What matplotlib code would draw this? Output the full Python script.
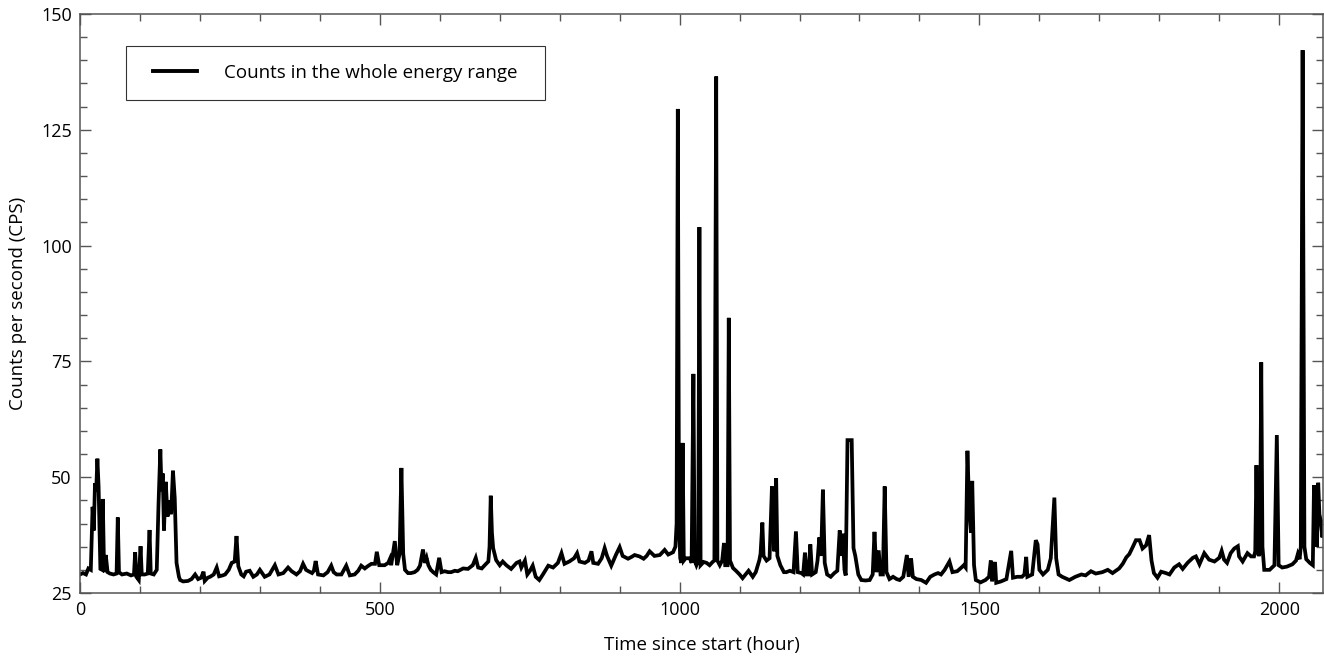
import matplotlib
matplotlib.use("Agg")
import matplotlib.pyplot as plt
from matplotlib.ticker import MultipleLocator
from matplotlib.legend_handler import HandlerLine2D

plt.rcParams['font.family'] = ['Open Sans', 'DejaVu Sans']

hours = [
    0, 5, 10, 14, 18, 21, 23, 25, 27, 29, 31, 33, 34, 37, 38, 40, 41, 43, 46, 50,
    56, 61, 63, 65, 70, 78, 85, 90, 92, 94, 98, 101, 103, 108, 113, 116, 118, 123, 128, 131,
    134, 136, 138, 140, 143, 146, 149, 152, 155, 158, 161, 165, 167, 172, 180, 186, 192, 197, 202, 206,
    208, 213, 217, 223, 228, 232, 238, 242, 248, 253, 258, 261, 264, 269, 273, 277, 283, 289, 295, 300,
    308, 316, 325, 331, 339, 347, 353, 361, 367, 372, 377, 381, 387, 390, 393, 397, 406, 413, 419, 423,
    428, 436, 444, 450, 458, 464, 469, 475, 480, 486, 492, 495, 499, 508, 514, 517, 519, 525, 529, 533,
    536, 539, 542, 547, 552, 558, 563, 567, 572, 575, 578, 581, 585, 589, 594, 599, 603, 608, 614, 619,
    625, 630, 639, 647, 655, 660, 664, 670, 675, 681, 683, 685, 687, 689, 694, 700, 705, 711, 719, 728,
    733, 736, 742, 746, 750, 755, 760, 766, 772, 781, 789, 797, 803, 808, 816, 824, 829, 833, 842, 848,
    853, 856, 864, 870, 875, 879, 886, 894, 900, 905, 914, 920, 925, 933, 940, 945, 950, 958, 967, 975,
    981, 989, 993, 995, 997, 999, 1001, 1003, 1005, 1007, 1010, 1017, 1020, 1023, 1025, 1028, 1031, 1033, 1035, 1040,
    1045, 1050, 1055, 1058, 1061, 1063, 1067, 1071, 1074, 1076, 1080, 1082, 1084, 1089, 1094, 1100, 1105, 1110, 1115, 1122,
    1127, 1133, 1135, 1138, 1140, 1145, 1150, 1154, 1156, 1158, 1161, 1163, 1168, 1174, 1178, 1184, 1190, 1194, 1197, 1203,
    1206, 1209, 1212, 1215, 1218, 1221, 1227, 1230, 1233, 1236, 1239, 1242, 1246, 1252, 1258, 1263, 1267, 1270, 1272, 1275,
    1277, 1280, 1287, 1290, 1293, 1298, 1303, 1310, 1317, 1322, 1325, 1328, 1332, 1335, 1339, 1342, 1345, 1350, 1356, 1362,
    1367, 1373, 1379, 1382, 1386, 1389, 1395, 1403, 1411, 1418, 1425, 1431, 1436, 1442, 1450, 1455, 1463, 1470, 1474, 1477,
    1480, 1483, 1486, 1488, 1491, 1494, 1502, 1510, 1516, 1519, 1521, 1526, 1528, 1536, 1545, 1553, 1556, 1563, 1571, 1575,
    1578, 1580, 1588, 1594, 1597, 1600, 1606, 1614, 1619, 1625, 1628, 1632, 1638, 1650, 1660, 1670, 1677, 1686, 1694, 1705,
    1714, 1722, 1733, 1739, 1745, 1750, 1756, 1761, 1767, 1772, 1778, 1783, 1787, 1791, 1797, 1803, 1811, 1817, 1825, 1833,
    1839, 1847, 1856, 1861, 1867, 1875, 1883, 1892, 1900, 1904, 1908, 1913, 1919, 1925, 1931, 1933, 1939, 1947, 1953, 1958,
    1960, 1962, 1964, 1966, 1968, 1970, 1972, 1975, 1984, 1992, 1996, 1999, 2005, 2013, 2022, 2028, 2031, 2034, 2036, 2039,
    2042, 2045, 2051, 2056, 2058, 2060, 2063, 2065, 2067, 2069, 2072, 2075,
]

counts = [
    29.0, 29.3, 29.0, 30.3, 30.0, 43.6, 38.5, 48.7, 47.0, 54.0, 48.0, 36.0, 30.2, 30.0, 45.3, 31.0, 29.5, 33.2, 29.5, 29.2,
    29.0, 29.2, 41.3, 29.5, 29.0, 29.2, 28.8, 29.0, 33.8, 28.5, 27.8, 35.1, 29.0, 29.0, 29.2, 38.6, 29.2, 29.0, 30.0, 44.4,
    56.0, 47.0, 50.8, 38.5, 49.0, 41.5, 45.0, 42.0, 51.4, 45.5, 31.5, 28.5, 27.8, 27.5, 27.6, 28.0, 29.0, 28.0, 28.3, 29.6,
    27.6, 28.3, 28.5, 29.0, 30.5, 28.6, 28.8, 29.0, 30.0, 31.5, 31.8, 37.3, 30.8, 29.0, 28.6, 29.6, 29.8, 28.5, 29.0, 30.0,
    28.5, 29.0, 31.0, 29.0, 29.3, 30.5, 29.7, 29.0, 29.7, 31.3, 30.0, 29.7, 29.3, 29.8, 31.9, 29.0, 28.8, 29.5, 30.9, 29.5,
    29.0, 29.0, 30.9, 28.8, 29.0, 29.8, 30.9, 30.3, 30.8, 31.3, 31.3, 33.9, 31.0, 31.0, 31.5, 32.4, 31.0, 36.2, 31.0, 33.5,
    52.0, 33.5, 30.0, 29.3, 29.3, 29.5, 30.0, 30.9, 34.4, 31.5, 32.6, 31.0, 30.0, 29.5, 29.0, 32.6, 29.5, 29.7, 29.5, 29.5,
    29.8, 29.7, 30.3, 30.2, 31.0, 32.6, 30.5, 30.3, 31.0, 31.8, 35.0, 46.0, 38.0, 34.7, 32.1, 31.0, 31.8, 31.0, 30.2, 31.5,
    31.8, 30.5, 32.0, 29.0, 29.7, 30.9, 28.5, 27.8, 29.0, 30.9, 30.5, 31.5, 33.6, 31.3, 31.8, 32.5, 33.6, 31.8, 31.5, 32.0,
    34.0, 31.5, 31.3, 32.5, 34.7, 33.0, 30.9, 33.3, 34.9, 33.0, 32.4, 32.8, 33.2, 32.9, 32.4, 33.0, 34.0, 33.0, 33.2, 34.3,
    33.3, 33.8, 35.0, 40.0, 129.5, 40.0, 32.5, 31.5, 57.4, 32.0, 32.5, 32.5, 31.5, 72.3, 32.0, 31.0, 32.0, 104.0, 31.0, 31.7,
    31.5, 31.0, 31.7, 32.0, 136.5, 32.0, 31.0, 32.0, 35.8, 31.0, 31.0, 84.4, 32.0, 30.4, 29.8, 29.0, 28.2, 29.0, 29.8, 28.5,
    29.5, 32.1, 33.5, 40.2, 33.0, 32.0, 32.5, 48.0, 39.0, 34.0, 49.8, 33.0, 31.0, 29.5, 29.5, 29.8, 29.5, 38.3, 29.5, 29.3,
    29.0, 33.7, 29.0, 29.0, 35.5, 29.0, 29.5, 32.0, 37.0, 33.0, 47.3, 31.5, 29.0, 28.5, 29.3, 29.8, 38.5, 33.0, 37.8, 30.0,
    28.8, 58.0, 58.0, 34.7, 33.0, 29.0, 27.8, 27.7, 27.8, 29.0, 38.2, 29.5, 34.2, 29.0, 29.0, 48.0, 29.5, 28.0, 28.5, 28.0,
    27.8, 28.5, 33.2, 28.5, 32.5, 28.5, 28.0, 27.8, 27.2, 28.5, 29.0, 29.3, 29.0, 30.0, 31.8, 29.5, 29.7, 30.5, 31.0, 30.5,
    55.7, 43.0, 38.0, 49.2, 31.0, 27.8, 27.3, 27.8, 28.5, 32.0, 27.5, 31.7, 27.2, 27.5, 28.0, 34.1, 28.3, 28.5, 28.5, 29.0,
    32.8, 28.5, 29.0, 36.4, 35.5, 30.0, 29.0, 30.0, 32.5, 45.6, 32.5, 29.0, 28.5, 27.8, 28.5, 29.0, 28.8, 29.7, 29.2, 29.5,
    30.0, 29.3, 30.3, 31.3, 32.7, 33.4, 35.0, 36.4, 36.4, 34.6, 35.3, 37.5, 32.0, 29.3, 28.3, 29.6, 29.3, 29.0, 30.5, 31.2,
    30.2, 31.5, 32.6, 32.9, 31.2, 33.6, 32.2, 31.8, 32.6, 34.1, 32.2, 31.5, 33.6, 34.6, 35.1, 32.9, 31.8, 33.6, 32.9, 32.9,
    34.0, 52.6, 34.0, 33.0, 34.0, 74.8, 35.0, 30.0, 30.0, 31.0, 59.1, 31.0, 30.5, 30.7, 31.2, 32.0, 33.4, 32.3, 35.0, 142.2,
    35.0, 32.3, 31.5, 31.0, 48.3, 38.0, 35.0, 48.8, 42.0, 40.7, 37.0, 40.5,
]

legend_label = "Counts in the whole energy range"
x_label = "Time since start (hour)"
y_label = "Counts per second (CPS)"
x_ticks = [0, 500, 1000, 1500, 2000]
y_ticks = [25, 50, 75, 100, 125, 150]

fig = plt.figure(figsize=(13.24, 6.59), dpi=100)
ax = fig.add_axes([80 / 1324, 66 / 659, 1243 / 1324, 579 / 659])

ax.plot(hours, counts, color="black", lw=2.7, solid_joinstyle="miter", label=legend_label)

ax.set_xlim(0, 2073)
ax.set_ylim(25, 150)
ax.set_xticks(x_ticks)
ax.set_yticks(y_ticks)
ax.xaxis.set_minor_locator(MultipleLocator(100))
ax.yaxis.set_minor_locator(MultipleLocator(5))
ax.tick_params(which="both", direction="in", top=True, right=True, color="#555555",
               labelsize=13, width=1)
ax.tick_params(which="major", length=8, pad=6)
ax.tick_params(which="minor", length=5)
for s in ax.spines.values():
    s.set_color("#555555")
    s.set_linewidth(1.1)

ax.set_xlabel(x_label, fontsize=13.5, labelpad=12)
ax.set_ylabel(y_label, fontsize=13.5, labelpad=10)

fs = 13.5
leg = ax.legend(loc="upper left", bbox_to_anchor=(46 / 1243, 0.0, 419 / 1243, 547 / 579),
                mode="expand", borderaxespad=0, fancybox=False, frameon=True,
                edgecolor="black", fontsize=fs, borderpad=0.95, handlelength=2.84,
                handletextpad=1.44, handler_map={plt.Line2D: HandlerLine2D(xpad=0.49)})
leg.get_frame().set_linewidth(0.8)
for l in leg.get_lines():
    l.set_linewidth(2.8)

fig.savefig("out.png", dpi=100)
